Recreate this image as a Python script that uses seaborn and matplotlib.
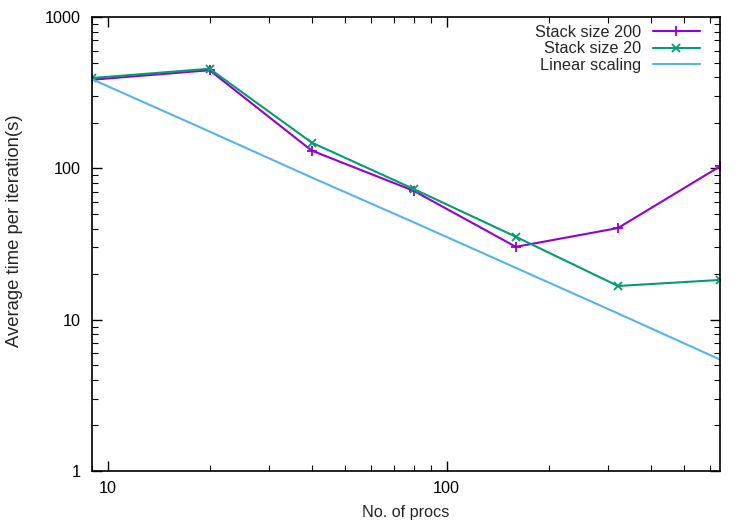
import matplotlib
matplotlib.use("Agg")
import matplotlib.pyplot as plt
import matplotlib.ticker as mticker
import numpy as np
import pandas as pd
import seaborn as sns

procs = [9, 20, 40, 80, 160, 320, 640]
stack_200 = [385, 445, 131, 71, 30.3, 40.3, 103]
stack_20 = [395, 455, 148, 73, 35.3, 16.7, 18.3]
linear = [388, 175, 87, 44, 22, 11, 5.45]

series_names = ["Stack size 200", "Stack size 20", "Linear scaling"]
series_colors = ["#9400D3", "#009E73", "#56B4E9"]
series_markers = ["+", "x", None]
series_msizes = [7, 6, 0]

sns.set_style("ticks")
plt.rcParams["font.family"] = ["Liberation Sans", "DejaVu Sans"]

df = pd.DataFrame({
    "procs": procs * 3,
    "time": stack_200 + stack_20 + linear,
    "series": np.repeat(series_names, len(procs)),
})

fig = plt.figure(figsize=(7.5, 5.25), dpi=100)
ax = fig.add_axes([92 / 750, 1 - 471 / 525, (720 - 92) / 750, (471 - 17) / 525])

for name, color, marker, ms in zip(series_names, series_colors, series_markers, series_msizes):
    sub = df[df["series"] == name]
    sns.lineplot(data=sub, x="procs", y="time", ax=ax, color=color, label=name,
                 marker=marker, markersize=ms, markeredgewidth=1.3,
                 markeredgecolor=color, linewidth=1.5)

ax.set_xscale("log")
ax.set_yscale("log")
ax.set_xlim(9, 640)
ax.set_ylim(1, 1000)

ax.xaxis.set_major_locator(mticker.LogLocator(base=10, numticks=10))
ax.yaxis.set_major_locator(mticker.LogLocator(base=10, numticks=10))
ax.xaxis.set_minor_locator(mticker.LogLocator(base=10, subs=np.arange(2, 10), numticks=20))
ax.yaxis.set_minor_locator(mticker.LogLocator(base=10, subs=np.arange(2, 10), numticks=20))
ax.xaxis.set_major_formatter(mticker.FuncFormatter(lambda v, p: f"{v:g}"))
ax.yaxis.set_major_formatter(mticker.FuncFormatter(lambda v, p: f"{v:g}"))
ax.xaxis.set_minor_formatter(mticker.NullFormatter())
ax.yaxis.set_minor_formatter(mticker.NullFormatter())

ax.tick_params(which="both", direction="in", top=True, right=True, labelsize=11.7, colors="black")
ax.tick_params(which="major", length=7, width=1)
ax.tick_params(which="minor", length=4, width=0.8)
ax.tick_params(axis="x", pad=7.5)
ax.tick_params(axis="y", pad=8)
for sp in ax.spines.values():
    sp.set_visible(True)
    sp.set_linewidth(1.2)
    sp.set_color("black")

ax.set_xlabel("No. of procs", fontsize=11.7, labelpad=6.5)
ax.set_ylabel("Average time per iteration(s)", fontsize=13.3)
ax.yaxis.set_label_coords((23 - 92) / 628, (471 - 231) / 454)

leg = ax.legend(loc="upper right", bbox_to_anchor=(700 / 750, 1 - 25 / 525),
                bbox_transform=fig.transFigure, frameon=False, markerfirst=False,
                fontsize=11.7, handlelength=2.9, handletextpad=0.7, labelspacing=0.08,
                borderpad=0, borderaxespad=0)

fig.savefig("out.png", dpi=100)
